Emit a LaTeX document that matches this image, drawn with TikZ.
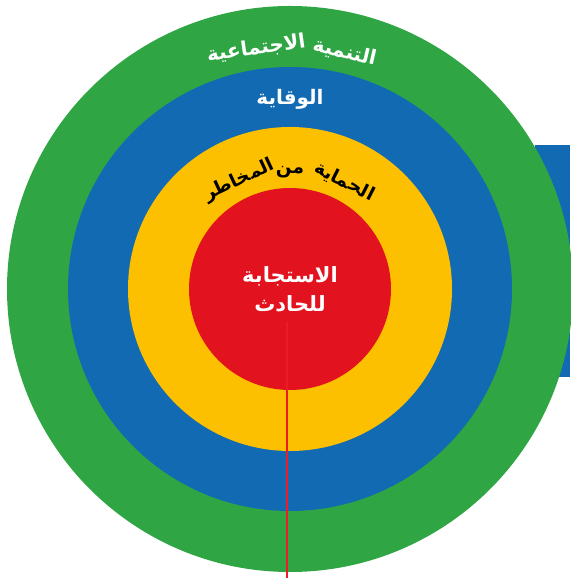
\documentclass[tikz,border=0pt]{standalone}
\usepackage{fontspec}
\newfontfamily\arabicfont[Script=Arabic]{DejaVu Sans}
\TeXXeTstate=1
\usetikzlibrary{calc}
\definecolor{ringgreen}{RGB}{47,166,67}
\definecolor{ringblue}{RGB}{18,106,178}
\definecolor{ringyellow}{RGB}{252,192,0}
\definecolor{ringred}{RGB}{226,18,30}
\definecolor{linered}{RGB}{237,28,36}
\tikzset{
  ringlabel/.style={inner sep=0pt, anchor=base, font=\arabicfont\bfseries\fontsize{20}{24}\selectfont},
  yellowlabel/.style={inner sep=0pt, anchor=base, text=black, font=\arabicfont\bfseries\fontsize{18.5}{22}\selectfont},
  centerlabel/.style={inner sep=0pt, anchor=base, text=white, font=\arabicfont\bfseries\fontsize{21}{25}\selectfont},
  axisline/.style={draw=linered, line width=1.5pt}
}
\begin{document}
\begin{tikzpicture}[x=1pt,y=1pt]
\useasboundingbox (0,0) rectangle (570,580);
\coordinate (c) at (290,291);
\fill[ringblue] (535,203) rectangle (570,435);
\fill[ringgreen] (c) circle (283);
\fill[ringblue] (c) circle (222);
\fill[ringyellow] (c) circle (162);
\fill[ringred] (c) circle (101);
% green ring text
\node[ringlabel, text=white, rotate=-13] (g1) at ($(c)+(77:237)$) {\beginR التنمية\endR};
\node[ringlabel, text=white, rotate=8] (g2) at ($(c)+(98:237)$) {\beginR الاجتماعية\endR};
% blue ring text
\node[ringlabel, text=white] (b1) at ($(c)+(90:184)$) {\beginR الوقاية\endR};
% yellow ring text
\node[yellowlabel, rotate=-27] (y1) at ($(c)+(63:115)$) {\beginR الحماية\endR};
\node[yellowlabel, rotate=0] (y2) at ($(c)+(90:115)$) {\beginR من\endR};
\node[yellowlabel, rotate=25] (y3) at ($(c)+(115:115)$) {\beginR المخاطر\endR};
% centre text
\node[centerlabel] (r1) at (290,297) {\beginR الاستجابة\endR};
\node[centerlabel] (r2) at (290,268) {\beginR للحادث\endR};
% vertical line
\coordinate (lt) at (287,258);
\coordinate (lb) at (287,2);
\draw[axisline] (lt) -- (lb);
\end{tikzpicture}
\end{document}
